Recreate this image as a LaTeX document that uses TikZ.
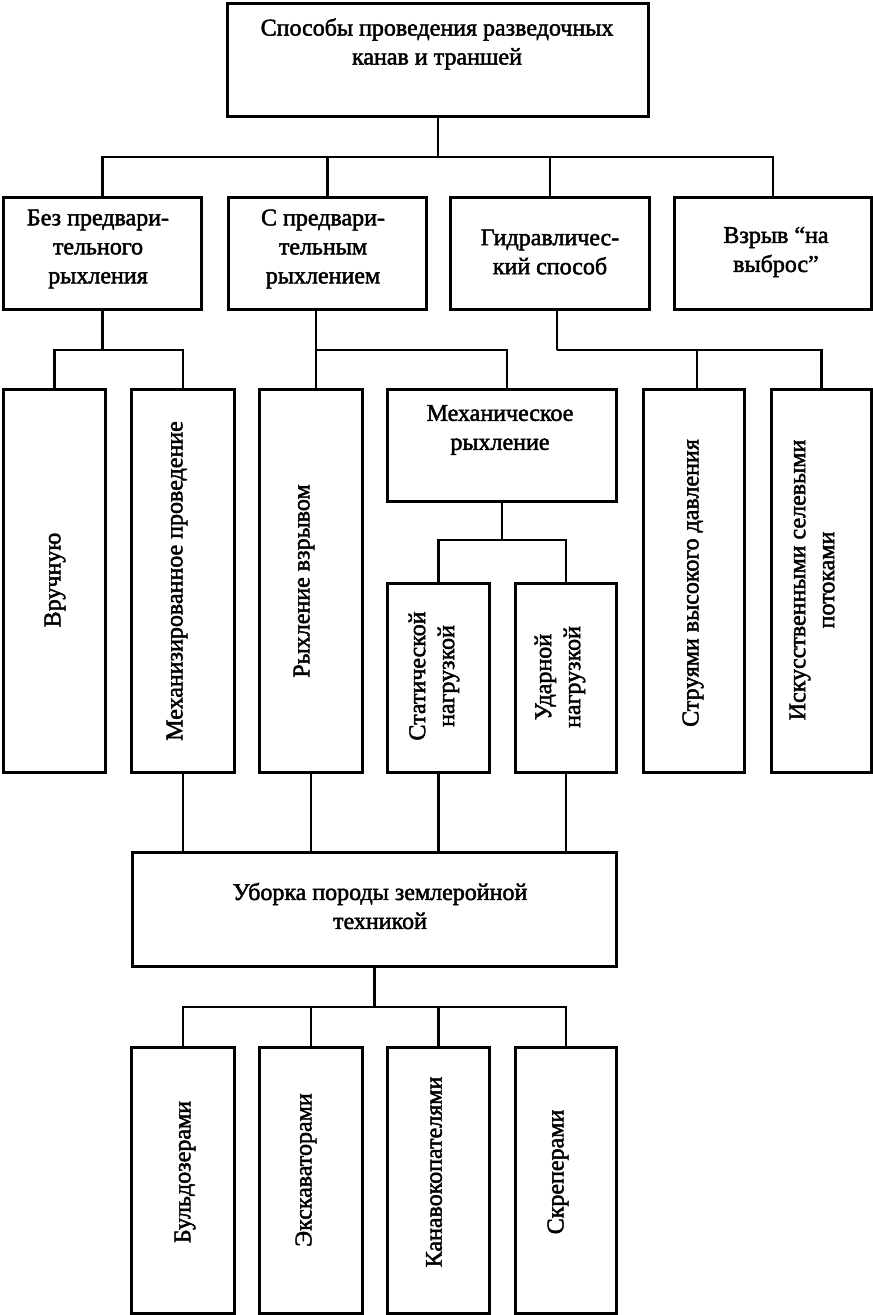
\documentclass[tikz,border=0pt]{standalone}
\usepackage{fontspec}
\setmainfont[FakeBold=2]{Liberation Serif}
\begin{document}
\begin{tikzpicture}[x=1pt,y=-1pt,
  box/.style={draw, line width=3pt, anchor=north west, inner sep=0pt},
  txt/.style={font=\fontsize{24}{29}\selectfont, align=center, inner sep=0pt},
  vtxt/.style={txt, rotate=90},
  link/.style={line width=2.6pt}]
\useasboundingbox (0,0) rectangle (873,1315);
% boxes
\node[box, minimum width=421pt, minimum height=113pt] (top) at (226,2) {};
\node[box, minimum width=198pt, minimum height=112pt] (b1) at (2,196) {};
\node[box, minimum width=198pt, minimum height=112pt] (b2) at (227,196) {};
\node[box, minimum width=199pt, minimum height=112pt] (b3) at (449,196) {};
\node[box, minimum width=197pt, minimum height=112pt] (b4) at (673,196) {};
\node[box, minimum width=102pt, minimum height=383pt] (v1) at (2,388) {};
\node[box, minimum width=103pt, minimum height=383pt] (v2) at (130,388) {};
\node[box, minimum width=103pt, minimum height=383pt] (v3) at (258,388) {};
\node[box, minimum width=229pt, minimum height=112pt] (mr) at (386,388) {};
\node[box, minimum width=102pt, minimum height=189pt] (st) at (386,582) {};
\node[box, minimum width=101pt, minimum height=189pt] (ud) at (514,582) {};
\node[box, minimum width=101pt, minimum height=383pt] (sr) at (642,388) {};
\node[box, minimum width=100pt, minimum height=383pt] (is) at (770,388) {};
\node[box, minimum width=484pt, minimum height=114pt] (ub) at (131,851) {};
\node[box, minimum width=103pt, minimum height=266pt] (bd) at (130,1046) {};
\node[box, minimum width=103pt, minimum height=266pt] (ek) at (258,1046) {};
\node[box, minimum width=102pt, minimum height=266pt] (kn) at (386,1046) {};
\node[box, minimum width=101pt, minimum height=266pt] (sk) at (514,1046) {};
% texts
\node[txt] (ttop) at (437,44) {Способы проведения разведочных\\канав и траншей};
\node[txt] (tb1) at (98,249) {Без предвари-\\тельного\\рыхления};
\node[txt] (tb2) at (323,249) {С предвари-\\тельным\\рыхлением};
\node[txt] (tb3) at (550,252) {Гидравличес-\\кий способ};
\node[txt] (tb4) at (776,252) {Взрыв “на\\выброс”};
\node[txt] (tmr) at (500,430) {Механическое\\рыхление};
\node[txt] (tub) at (380,906) {Уборка породы землеройной\\техникой};
\node[vtxt] (tv1) at (55,580) {Вручную};
\node[vtxt] (tv2) at (177,581) {Механизированное проведение};
\node[vtxt] (tv3) at (304,581) {Рыхление взрывом};
\node[vtxt] (tst) at (434,676) {Статической\\нагрузкой};
\node[vtxt] (tud) at (560,677) {Ударной\\нагрузкой};
\node[vtxt] (tsr) at (693,583) {Струями высокого давления};
\node[vtxt] (tis) at (812,580) {Искусственными селевыми\\потоками};
\node[vtxt] (tbd) at (185,1172) {Бульдозерами};
\node[vtxt] (tek) at (306,1170) {Экскаваторами};
\node[vtxt] (tkn) at (434,1172) {Канавокопателями};
\node[vtxt] (tsk) at (558,1172) {Скреперами};
% connectors
\coordinate (j1) at (top.south |- 0,157);
\draw[link] (top.south) -- (j1);
\draw[link] (b1.north) |- (j1);
\draw[link] (b2.north) |- (j1);
\draw[link] (b3.north) |- (j1);
\draw[link] (b4.north) |- (j1);
\coordinate (j2) at (b1.south |- 0,350);
\draw[link] (b1.south) -- (j2);
\draw[link] (v1.north) |- (j2);
\draw[link] (v2.north) |- (j2);
\coordinate (j3) at (316,350);
\draw[link] (j3 |- b2.south) -- (j3 |- v3.north);
\draw[link] (j3) -| ([xshift=5pt]mr.north);
\coordinate (j4) at (557,350);
\draw[link] (j4 |- b3.south) -- (j4);
\draw[link] (j4) -| ([xshift=3pt]sr.north);
\draw[link] (j4) -| (is.north);
\coordinate (j5) at (mr.south |- 0,540);
\draw[link] (mr.south) -- (j5);
\draw[link] (st.north) |- (j5);
\draw[link] (ud.north) |- (j5);
\draw[link] (v2.south) -- (v2.south |- ub.north);
\draw[link] (v3.south) -- (v3.south |- ub.north);
\draw[link] (st.south) -- (st.south |- ub.north);
\draw[link] (ud.south) -- (ud.south |- ub.north);
\coordinate (j6) at (ub.south |- 0,1007);
\draw[link] (ub.south) -- (j6);
\draw[link] (bd.north) |- (j6);
\draw[link] (ek.north) |- (j6);
\draw[link] (kn.north) |- (j6);
\draw[link] (sk.north) |- (j6);
\end{tikzpicture}
\end{document}
